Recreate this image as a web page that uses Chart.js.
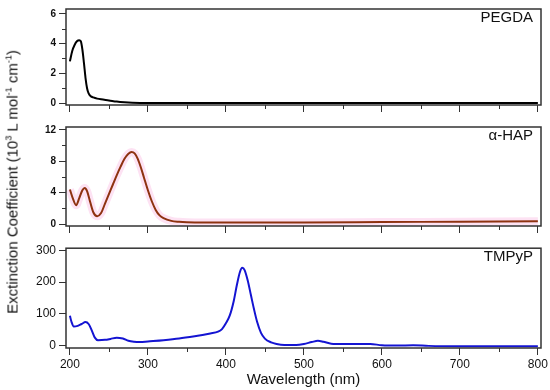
<!DOCTYPE html>
<html>
<head>
<meta charset="utf-8">
<script src="https://cdn.jsdelivr.net/npm/chart.js@4/dist/chart.umd.min.js"></script>
<style>
  body { margin: 0; background: #fff; }
  #wrap { position: relative; width: 550px; height: 390px; }
  #wrap canvas { position: absolute; left: 0; }
  #ytitle {
    position: absolute; left: 12px; top: 182px;
    transform: translate(-50%, -50%) rotate(-90deg);
    white-space: nowrap; font: 15px 'Liberation Sans', Arial, sans-serif; color: #111;
  }
  #ytitle sup { font-size: 9px; }
</style>
</head>
<body>
<div id="wrap">
  <canvas id="pegda" width="550" height="118" style="top:0"></canvas>
  <canvas id="hap" width="550" height="120" style="top:118px"></canvas>
  <canvas id="tmpyp" width="550" height="152" style="top:238px"></canvas>
  <div id="ytitle">Exctinction Coefficient (10<sup>3</sup> L mol<sup>-1</sup> cm<sup>-1</sup>)</div>
</div>
<script>
// PEGDA
const wlPegda = [200, 203, 206, 209, 212, 214, 216, 218, 220, 222, 224, 227, 230, 235, 240, 250, 260, 270, 280, 300, 400, 500, 600, 700, 800];
const absPegda = [2.8, 3.5, 3.9, 4.15, 4.22, 4.15, 3.6, 2.7, 1.7, 1.0, 0.65, 0.45, 0.38, 0.3, 0.25, 0.18, 0.1, 0.05, 0.02, 0, 0, 0, 0, 0, 0];

// alpha-HAP
const wlHap = [200, 204, 208, 212, 216, 219, 222, 226, 230, 235, 240, 245, 250, 255, 260, 265, 270, 275, 279, 283, 287, 291, 295, 300, 305, 310, 315, 320, 330, 340, 350, 370, 400, 500, 600, 700, 800];
const absHap = [4.4, 3.2, 2.4, 3.3, 4.3, 4.6, 4.2, 2.8, 1.5, 1.0, 1.4, 2.6, 3.8, 5.0, 6.2, 7.3, 8.3, 8.95, 9.18, 9.0, 8.3, 7.2, 5.9, 4.3, 2.9, 1.8, 1.1, 0.75, 0.4, 0.28, 0.22, 0.18, 0.18, 0.2, 0.25, 0.3, 0.35];

// TMPyP
const wlTmpyp = [200, 202, 205, 210, 215, 220, 224, 228, 232, 236, 245, 252, 260, 268, 275, 282, 290, 300, 320, 340, 360, 370, 380, 390, 395, 400, 405, 410, 414, 418, 421, 424, 428, 432, 436, 440, 445, 450, 458, 465, 475, 490, 500, 510, 518, 525, 535, 550, 570, 585, 600, 620, 640, 660, 700, 750, 800];
const absTmpyp = [94, 75, 60, 62, 68, 74, 68, 48, 25, 17, 18, 21, 25, 22, 15, 12, 11, 13, 17, 22, 29, 33, 38, 44, 52, 70, 95, 140, 190, 232, 245, 238, 205, 160, 115, 75, 40, 22, 10, 5, 2, 2, 5, 11, 15, 12, 6, 5, 5, 5, 1, 0, 1, -1, -2, -2, -2];

const xTicks = ['200', '300', '400', '500', '600', '700', '800'];

const font = "'Liberation Sans', Arial, sans-serif";

const pts = (xs, ys) => xs.map((x, i) => ({ x: x, y: ys[i] }));

// box round the plot, short minor ticks and the name of the sample
const panelPlugin = {
  id: 'panel',
  afterDraw(chart, args, o) {
    const { ctx, chartArea: a, scales } = chart;
    ctx.save();
    ctx.strokeStyle = '#333';
    ctx.lineWidth = 1;
    ctx.beginPath();
    scales.x.ticks.forEach(t => {
      if (t.value % 100 !== 0) {
        const px = Math.round(scales.x.getPixelForValue(t.value)) + 0.5;
        ctx.moveTo(px, a.bottom); ctx.lineTo(px, a.bottom + 4);
      }
    });
    scales.y.ticks.forEach(t => {
      if (t.value % o.major !== 0) {
        const py = Math.round(scales.y.getPixelForValue(t.value)) + 0.5;
        ctx.moveTo(a.left, py); ctx.lineTo(a.left - 4, py);
      }
    });
    ctx.stroke();
    ctx.lineWidth = 1.5;
    ctx.strokeRect(a.left, a.top, a.right - a.left, a.bottom - a.top);
    ctx.fillStyle = '#111';
    ctx.font = '15px ' + font;
    ctx.textAlign = 'right';
    ctx.textBaseline = 'middle';
    ctx.fillText(o.label, a.right - 8, a.top + 9);
    ctx.restore();
  }
};

const makePanel = (id, datasets, p) => {
  new Chart(document.getElementById(id), {
    type: 'line',
    data: { datasets: datasets },
    plugins: [panelPlugin],
    options: {
      responsive: false,
      animation: false,
      devicePixelRatio: 1,
      layout: { padding: { top: p.top, left: 0, right: 9, bottom: 0 } },
      elements: { point: { radius: 0 }, line: { cubicInterpolationMode: 'monotone' } },
      plugins: {
        legend: { display: false },
        tooltip: { enabled: false },
        panel: { label: p.label, major: p.major }
      },
      scales: {
        x: {
          type: 'linear', min: 195, max: 804,
          afterFit: s => { s.height = p.xHeight; },
          border: { display: false },
          grid: {
            drawOnChartArea: false, tickLength: 7,
            tickColor: c => c.tick.value % 100 === 0 ? '#333' : 'rgba(0,0,0,0)'
          },
          ticks: {
            display: p.showX, stepSize: 50, includeBounds: false, maxRotation: 0, autoSkip: false,
            color: '#111', font: { family: font, size: 12 }, padding: 2,
            callback: v => v % 100 === 0 ? xTicks[(v - 200) / 100] : ''
          },
          title: {
            display: p.showX, text: 'Wavelength (nm)', color: '#111',
            font: { family: font, size: 15 }, padding: { top: 0, bottom: 1 }
          }
        },
        y: {
          min: p.min, max: p.max,
          afterFit: s => { s.width = 66; },
          border: { display: false },
          grid: {
            drawOnChartArea: false, tickLength: 7,
            tickColor: c => c.tick.value % p.major === 0 ? '#333' : 'rgba(0,0,0,0)'
          },
          ticks: {
            stepSize: p.major / 2, includeBounds: false, color: '#111', padding: 3,
            font: { family: font, size: p.tickSize, weight: p.tickWeight },
            callback: v => v % p.major === 0 ? String(v) : ''
          }
        }
      }
    }
  });
};

makePanel('pegda', [
  { data: pts(wlPegda, absPegda), borderColor: '#000', borderWidth: 2 }
], { top: 4, xHeight: 13, min: -0.13, max: 6.32, major: 2, label: 'PEGDA', showX: false, tickSize: 10, tickWeight: 'bold' });

makePanel('hap', [
  { data: pts(wlHap, absHap), borderColor: '#8e3210', borderWidth: 2, order: 0 },
  { data: pts(wlHap, absHap), borderColor: '#fde2f3', borderWidth: 8, order: 1 }
], { top: 6, xHeight: 12, min: -0.25, max: 12.35, major: 4, label: 'α-HAP', showX: false, tickSize: 10, tickWeight: 'bold' });

makePanel('tmpyp', [
  { data: pts(wlTmpyp, absTmpyp), borderColor: '#1414d2', borderWidth: 2 }
], { top: 7, xHeight: 42, min: -7.7, max: 307, major: 100, label: 'TMPyP', showX: true, tickSize: 12, tickWeight: 'normal' });
</script>
</body>
</html>
